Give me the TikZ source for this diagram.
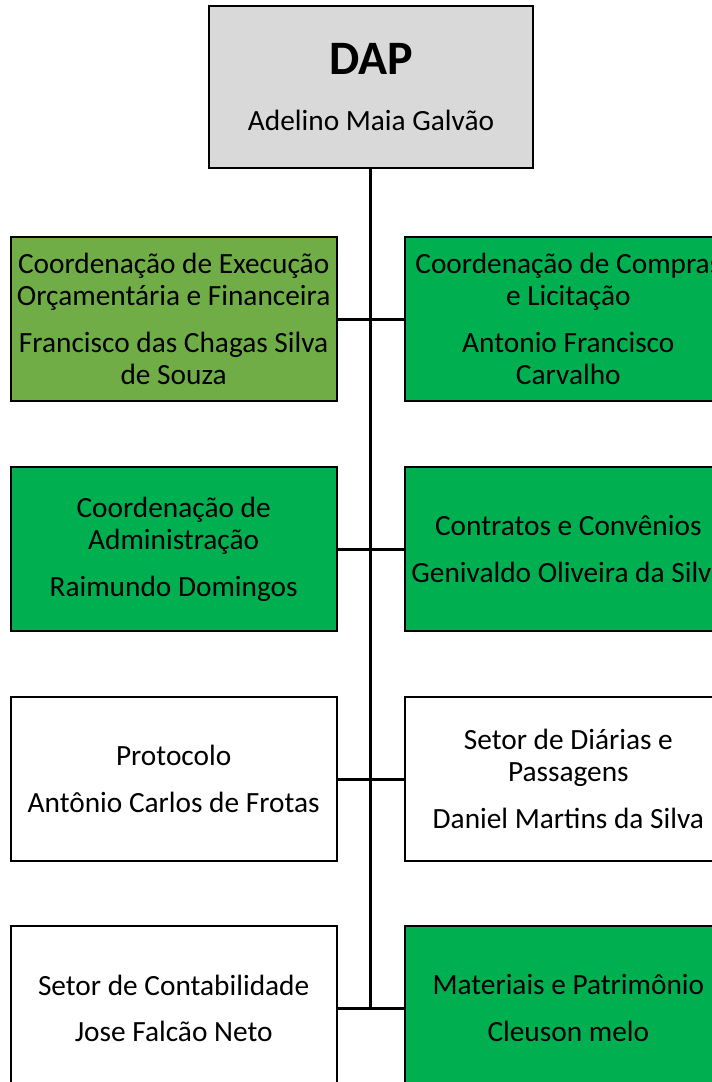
\documentclass[tikz,border=0pt]{standalone}
\usepackage{fontspec}
\setmainfont{Carlito}
\usepackage{xcolor}
\definecolor{mygri1}{HTML}{D9D9D9}
\definecolor{myoli1}{HTML}{70AD47}
\definecolor{myver1}{HTML}{00B050}
\usepackage{tikz}
\usetikzlibrary{positioning}
\tikzstyle{chefe} = [rectangle, minimum width=243pt, minimum height=121.5pt, text centered, draw=black, line width=1.5pt, fill=mygri1, text=black]
\tikzstyle{coord} = [rectangle, minimum width=244.5pt, minimum height=123pt, text centered, draw=black, line width=1.5pt, fill=myver1, text=black]
\tikzstyle{coordoli} = [coord, fill=myoli1]
\tikzstyle{setor} = [coord, fill=white]
\tikzstyle{tronco} = [line width=2.25pt, black]
\tikzstyle{ramo} = [line width=2.25pt, black]

\begin{document}
\begin{tikzpicture}[align=center, node distance=172.5pt, font=\fontsize{22}{24}\selectfont]
	\useasboundingbox (-278.25pt,65.25pt) rectangle (255.75pt,-746.25pt);
	\node (dap) [chefe] {{\fontsize{36}{40}\selectfont\bfseries DAP}\\[18pt] Adelino Maia Galvão};
	\coordinate[below=112.5pt of dap] (r1);
	\coordinate[below=of r1] (r2);
	\coordinate[below=of r2] (r3);
	\coordinate[below=172pt of r3] (r4);
	\node (cexec) [coordoli, left=25pt of r1] {Coordenação de Execução\\Orçamentária e Financeira\\[11pt] Francisco das Chagas Silva\\de Souza};
	\node (ccomp) [coord, right=25pt of r1] {Coordenação de Compras\\e Licitação\\[11pt] Antonio Francisco\\Carvalho};
	\node (cadm) [coord, left=25pt of r2] {Coordenação de\\Administração\\[11pt] Raimundo Domingos};
	\node (ccont) [coord, right=25pt of r2] {Contratos e Convênios\\[11pt] Genivaldo Oliveira da Silva};
	\node (prot) [setor, left=25pt of r3] {Protocolo\\[11pt] Antônio Carlos de Frotas};
	\node (diar) [setor, right=25pt of r3] {Setor de Diárias e\\Passagens\\[11pt] Daniel Martins da Silva};
	\node (contab) [setor, left=25pt of r4] {Setor de Contabilidade\\[11pt] Jose Falcão Neto};
	\node (mat) [coord, right=25pt of r4] {Materiais e Patrimônio\\[11pt] Cleuson melo};
	\draw [tronco] (dap.south) -- (r4);
	\draw [ramo] (cexec) -- (ccomp);
	\draw [ramo] (cadm) -- (ccont);
	\draw [ramo] (prot) -- (diar);
	\draw [ramo] (contab) -- (mat);
\end{tikzpicture}
\end{document}
